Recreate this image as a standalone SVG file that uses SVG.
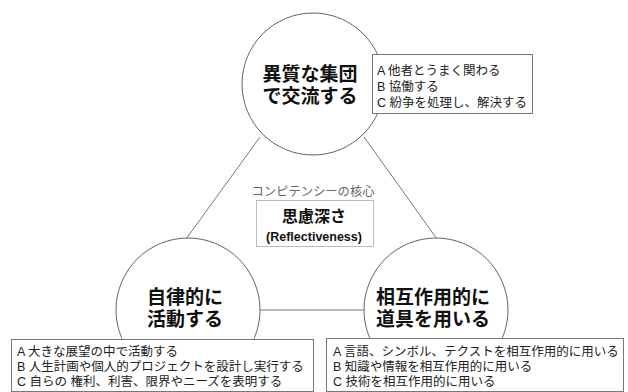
<svg xmlns="http://www.w3.org/2000/svg" width="628" height="392" viewBox="0 0 628 392">
<style>
.circ{fill:#fff;stroke:#666;stroke-width:1}
.conn{stroke:#777;stroke-width:1;fill:none}
.box{fill:#fff;stroke:#777;stroke-width:1}
.title{font-family:"Liberation Sans","Noto Sans CJK JP",sans-serif;font-weight:bold;font-size:19px;fill:#111;text-anchor:middle}
.item{font-family:"Liberation Sans","Noto Sans CJK JP",sans-serif;font-size:12.5px;fill:#222}
</style>
<rect width="628" height="392" fill="#fff"/>
<g id="connectors">
<line class="conn" x1="260" y1="137" x2="186" y2="239"/>
<line class="conn" x1="364" y1="137" x2="437" y2="239"/>
<line class="conn" x1="259" y1="310" x2="364" y2="310"/>
</g>
<g id="node-top">
<circle class="circ" cx="313" cy="84" r="71"/>
<text class="title" x="310" y="81">異質な集団</text>
<text class="title" x="310" y="103">で交流する</text>
<rect class="box" x="372.5" y="54.5" width="160" height="59"/>
<text class="item" x="377" y="75">A 他者とうまく関わる</text>
<text class="item" x="377" y="91">B 協働する</text>
<text class="item" x="377" y="107">C 紛争を処理し、解決する</text>
</g>
<g id="node-core">
<text x="313" y="196" text-anchor="middle" style="font-family:'Liberation Sans','Noto Sans CJK JP',sans-serif;font-size:12.3px;fill:#666">コンピテンシーの核心</text>
<rect x="256.5" y="200.5" width="117" height="46" fill="#fff" stroke="#777" stroke-width="1" stroke-dasharray="1,1"/>
<text x="314" y="222" text-anchor="middle" style="font-family:'Liberation Sans','Noto Sans CJK JP',sans-serif;font-weight:bold;font-size:16px;fill:#111">思慮深さ</text>
<text x="314" y="241" text-anchor="middle" style="font-family:'Liberation Sans',Arial,sans-serif;font-weight:bold;font-size:12.5px;fill:#111">(Reflectiveness)</text>
</g>
<g id="node-left">
<circle class="circ" cx="188" cy="310" r="72"/>
<text class="title" x="185" y="304">自律的に</text>
<text class="title" x="185" y="326">活動する</text>
<rect class="box" x="11.5" y="339.5" width="302" height="52"/>
<text class="item" x="17" y="356">A 大きな展望の中で活動する</text>
<text class="item" x="17" y="371">B 人生計画や個人的プロジェクトを設計し実行する</text>
<text class="item" x="17" y="386">C 自らの 権利、利害、限界やニーズを表明する</text>
</g>
<g id="node-right">
<circle class="circ" cx="436" cy="310" r="72"/>
<text class="title" x="433" y="304">相互作用的に</text>
<text class="title" x="433" y="326">道具を用いる</text>
<rect class="box" x="326.5" y="338.5" width="297" height="53"/>
<text class="item" x="333" y="356">A 言語、シンボル、テクストを相互作用的に用いる</text>
<text class="item" x="333" y="371">B 知識や情報を相互作用的に用いる</text>
<text class="item" x="333" y="386">C 技術を相互作用的に用いる</text>
</g>
</svg>
